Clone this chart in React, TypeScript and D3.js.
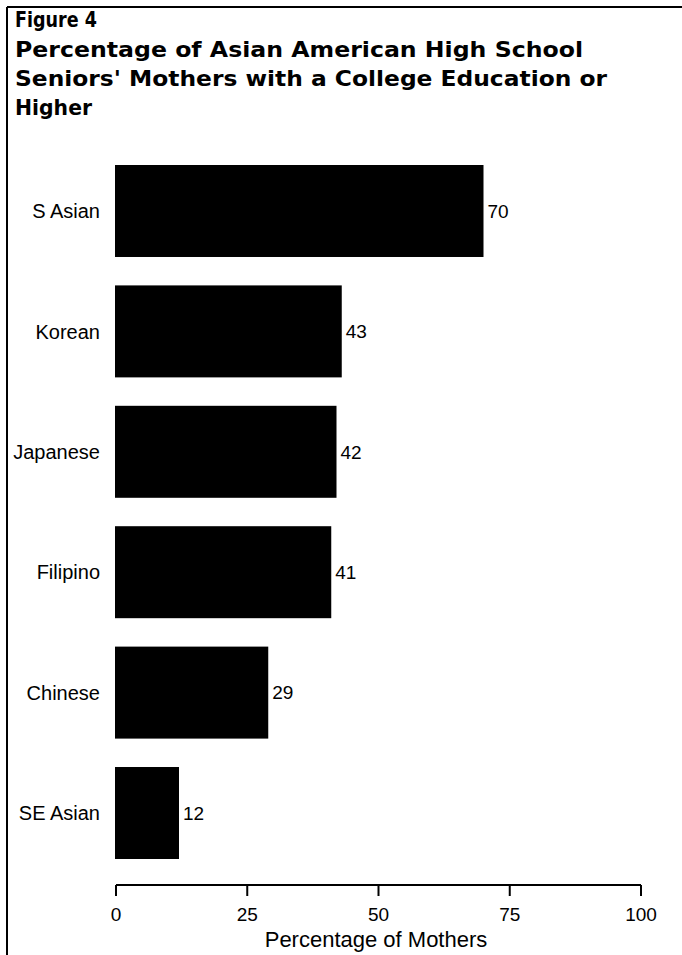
import React from "react";
import * as d3 from "d3";

const titleLines = [
  "Figure 4",
  "Percentage of Asian American High School",
  "Seniors' Mothers with a College Education or",
  "Higher",
];
const categories = ["S Asian", "Korean", "Japanese", "Filipino", "Chinese", "SE Asian"];
const values = [70, 43, 42, 41, 29, 12];
const ticks = [0, 25, 50, 75, 100];
const axisTitle = "Percentage of Mothers";

const W = 682;
const H = 955;

export default function App() {
  const x = d3.scaleLinear().domain([0, 100]).range([116, 641]);
  const y = d3.scaleBand<string>().domain(categories).range([165, 859]).paddingInner(0.236).paddingOuter(0);
  const axisY = 885;
  const labelFont = "'Liberation Sans', Arial, Helvetica, sans-serif";
  const titleFont = "'DejaVu Sans', Verdana, sans-serif";
  const titleWidths = [82, 568, 592, 77];
  const titleBaselines = [27, 57, 86, 115];

  return (
    <svg
      width={W}
      height={H}
      viewBox={`0 0 ${W} ${H}`}
      style={{ position: "absolute", left: 0, top: 0, display: "block", background: "#fff" }}
    >
      <rect x={0} y={0} width={W} height={H} fill="#fff" />
      {/* frame */}
      <line x1={7} y1={7} x2={W} y2={7} stroke="#000" strokeWidth={2} />
      <line x1={7} y1={7} x2={7} y2={H} stroke="#000" strokeWidth={2} />

      {/* title */}
      {titleLines.map((t, i) => (
        <text
          key={t}
          x={15}
          y={titleBaselines[i]}
          fontFamily={titleFont}
          fontWeight="bold"
          fontSize={22}
          textLength={titleWidths[i]}
          lengthAdjust="spacingAndGlyphs"
          fill="#000"
        >
          {t}
        </text>
      ))}

      {/* bars */}
      {categories.map((c, i) => (
        <g key={c}>
          <rect x={x(0) - 1} y={y(c)} width={x(values[i]) - x(0) + 1} height={y.bandwidth()} fill="#000" />
          <text
            x={100}
            y={(y(c) as number) + y.bandwidth() / 2}
            dy="0.36em"
            textAnchor="end"
            fontFamily={labelFont}
            fontSize={20}
            fill="#000"
          >
            {c}
          </text>
          <text
            x={x(values[i]) + 4}
            y={(y(c) as number) + y.bandwidth() / 2}
            dy="0.36em"
            fontFamily={labelFont}
            fontSize={19}
            fill="#000"
          >
            {values[i]}
          </text>
        </g>
      ))}

      {/* axis */}
      <line x1={x(0)} y1={axisY} x2={x(100)} y2={axisY} stroke="#000" strokeWidth={2} />
      {ticks.map((t) => (
        <g key={t}>
          <line x1={x(t)} y1={axisY} x2={x(t)} y2={axisY + 11} stroke="#000" strokeWidth={2} />
          <text x={x(t)} y={921} textAnchor="middle" fontFamily={labelFont} fontSize={19} fill="#000">
            {t}
          </text>
        </g>
      ))}
      <text x={376} y={947} textAnchor="middle" fontFamily={labelFont} fontSize={22} fill="#000">
        {axisTitle}
      </text>
    </svg>
  );
}
